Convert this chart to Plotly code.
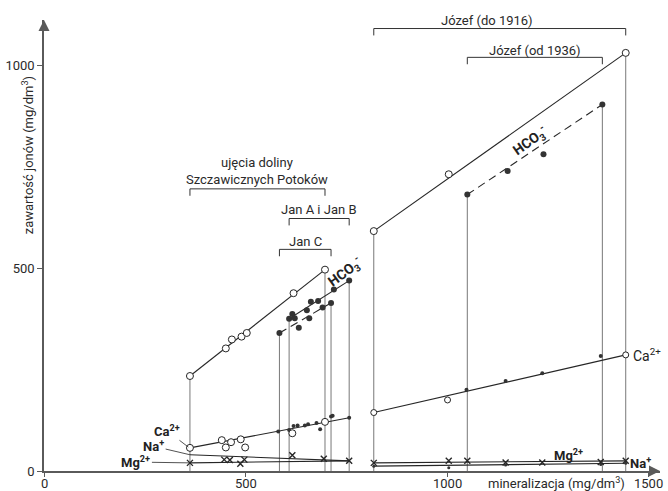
import plotly.graph_objects as go

FONT = "Roboto, Liberation Sans, Arial, sans-serif"
INK = "#262626"
AXC = "#5a5a5a"

# ---------------- data (mg/dm3) ----------------
# ujęcia doliny Szczawicznych Potoków (open circles)
szcz_min = [362, 451, 466, 490, 503, 619, 697]
szcz_hco3 = [234, 302, 324, 331, 340, 438, 496]
szcz_ca_min = [362, 441, 451, 464, 488, 499, 616, 697]
szcz_ca = [57, 76, 58, 71, 78, 58, 93, 121]

# Jan A i Jan B (filled, solid HCO3 line)
janab_min = [608, 616, 652, 662, 680, 719, 757]
janab_hco3 = [375, 387, 396, 417, 419, 447, 469]
# Jan C (filled, dashed HCO3 line)
janc_min = [584, 622, 632, 658, 691, 712]
janc_hco3 = [340, 376, 353, 376, 403, 414]
# Ca2+ of Jan springs
jan_ca_min = [581, 608, 619, 629, 647, 655, 676, 685, 712, 716, 757]
jan_ca = [97, 101, 111, 112, 112, 115, 118, 103, 134, 136, 131]
# Na+ / Mg2+ (left group, x markers)
left_namg_min = [362, 447, 461, 487, 497, 616, 694, 757]
left_namg = [20, 28, 27, 18, 28, 39, 30, 25]
left_na_min = [362, 757]
left_na = [40, 25]
left_mg_min = [362, 757]
left_mg = [20, 25]

# Józef (do 1916) - open
jozef1916_min = [818, 1004, 1443]
jozef1916_hco3 = [591, 731, 1030]
jozef1916_ca_min = [818, 1001, 1443]
jozef1916_ca = [144, 175, 286]
# Józef (od 1936) - filled
jozef1936_min = [1050, 1150, 1239, 1385]
jozef1936_hco3 = [681, 739, 780, 903]
jozef1936_ca_min = [1048, 1145, 1236, 1381]
jozef1936_ca = [200, 222, 241, 283]
# Józef Mg2+ (x) and Na+ (dots)
jozef_mg_min = [818, 1004, 1050, 1145, 1236, 1381, 1443]
jozef_mg = [20, 25, 25, 21, 21, 22, 25]
jozef_na_min = [818, 1004, 1145, 1381, 1443]
jozef_na = [12, 8, 15, 16, 19]

x_ticks = [0, 500, 1000, 1500]
x_tick_labels = ["0", "500", "1000", "1500"]
y_ticks = [0, 500, 1000]
y_tick_labels = ["0", "500", "1000"]
XMAX, YMAX = 1528, 1111

# ---------------- layout constants ----------------
brackets = [  # (label, xs, bar level, label x, label y)
    ("ujęcia doliny<br>Szczawicznych Potoków", szcz_min, 695, None, 739),
    ("Jan A i Jan B", janab_min, 622, None, 643),
    ("Jan C", janc_min, 546, None, 565),
    ("Józef (do 1916)", jozef1916_min, 1090, 1100, 1109),
    ("Józef (od 1936)", jozef1936_min, 1019, None, 1037),
]
TICK = 17

fig = go.Figure()

# vertical drop lines from HCO3 ends
vx, vy = [], []
for xs, ys in [(szcz_min, szcz_hco3), (janc_min, janc_hco3), (janab_min, janab_hco3),
               (jozef1916_min, jozef1916_hco3), (jozef1936_min, jozef1936_hco3)]:
    for i in (0, -1):
        vx += [xs[i], xs[i], None]
        vy += [ys[i], 0, None]
fig.add_trace(go.Scatter(x=vx, y=vy, mode="lines", line=dict(color="#555", width=0.8),
                         hoverinfo="skip", showlegend=False))


def seg(x0, y0, x1, y1, dash="solid", width=1.1):
    fig.add_trace(go.Scatter(x=[x0, x1], y=[y0, y1], mode="lines",
                             line=dict(color=INK, width=width, dash=dash),
                             hoverinfo="skip", showlegend=False))


DASH = "8px,5px"
seg(szcz_min[0], szcz_hco3[0], szcz_min[-1], szcz_hco3[-1])
seg(janab_min[0], janab_hco3[0], janab_min[-1], janab_hco3[-1])
seg(janc_min[0], janc_hco3[0], janc_min[-1], janc_hco3[-1], dash=DASH)
seg(szcz_ca_min[0], szcz_ca[0], jan_ca_min[-1], jan_ca[-1])
seg(left_na_min[0], left_na[0], left_na_min[-1], left_na[-1])
seg(left_mg_min[0], left_mg[0], left_mg_min[-1], left_mg[-1])
seg(jozef1916_min[0], jozef1916_hco3[0], jozef1916_min[-1], jozef1916_hco3[-1])
seg(jozef1936_min[0], jozef1936_hco3[0], jozef1936_min[-1], jozef1936_hco3[-1], dash=DASH)
seg(jozef1916_ca_min[0], jozef1916_ca[0], jozef1916_ca_min[-1], jozef1916_ca[-1])
seg(jozef_mg_min[0], jozef_mg[0], jozef_mg_min[-1], jozef_mg[-1])
seg(jozef_na_min[0], jozef_na[0], jozef_na_min[-1], jozef_na[-1])

open_m = dict(symbol="circle", size=7, color="white", line=dict(color=INK, width=1))
fill_m = dict(symbol="circle", size=6, color="#333")
dot_m = dict(symbol="circle", size=4, color="#333")
x_m = dict(symbol="x-thin", size=6, color=INK, line=dict(color=INK, width=1.4))


def pts(xs, ys, m):
    fig.add_trace(go.Scatter(x=xs, y=ys, mode="markers", marker=m,
                             hoverinfo="skip", showlegend=False, cliponaxis=False))


pts(szcz_min, szcz_hco3, open_m)
pts(janab_min, janab_hco3, fill_m)
pts(janc_min, janc_hco3, fill_m)
pts(jan_ca_min, jan_ca, dot_m)
pts(szcz_ca_min, szcz_ca, open_m)
pts(left_namg_min, left_namg, x_m)
pts(jozef1916_min, jozef1916_hco3, open_m)
pts(jozef1936_min, jozef1936_hco3, fill_m)
pts(jozef1936_ca_min, jozef1936_ca, dot_m)
pts(jozef1916_ca_min, jozef1916_ca, dict(open_m, size=6))
pts(jozef_mg_min, jozef_mg, x_m)
pts(jozef_na_min, jozef_na, dict(dot_m, size=3))

# axis arrows
fig.add_trace(go.Scatter(x=[0], y=[YMAX], mode="markers", cliponaxis=False,
                         marker=dict(symbol="arrow-up", size=11, color=AXC),
                         hoverinfo="skip", showlegend=False))
fig.add_trace(go.Scatter(x=[XMAX], y=[0], mode="markers", cliponaxis=False,
                         marker=dict(symbol="arrow-right", size=11, color=AXC),
                         hoverinfo="skip", showlegend=False))

shapes, annotations = [], []
for label, xs, lvl, lx, ly in brackets:
    x0, x1 = min(xs), max(xs)
    shapes.append(dict(type="path", xref="x", yref="y",
                       path=f"M {x0},{lvl - TICK} L {x0},{lvl} L {x1},{lvl} L {x1},{lvl - TICK}",
                       line=dict(color="#333", width=1)))
    annotations.append(dict(x=lx if lx is not None else (x0 + x1) / 2, y=ly, text=label,
                            showarrow=False, font=dict(size=13, color="#2a2a2a", family=FONT)))

# x tick labels (drawn as annotations so they fit under the axis)
for v, t in zip(x_ticks, x_tick_labels):
    annotations.append(dict(x=v, y=0, yshift=-12, text=t, showarrow=False,
                            font=dict(size=13, color="#2a2a2a", family=FONT)))

lab_font = dict(size=13, color="#222", family=FONT)
# left-side ion labels with leaders
for txt, hx, hy, tx, ty in [("<b>Ca<sup>2+</sup></b>", 358, 59, 305, 99),
                            ("<b>Na<sup>+</sup></b>", 362, 40, 272, 61),
                            ("<b>Mg<sup>2+</sup></b>", 362, 20, 228, 22)]:
    annotations.append(dict(x=hx, y=hy, ax=tx, ay=ty, axref="x", ayref="y", text=txt,
                            showarrow=True, arrowhead=0, arrowwidth=0.8, arrowcolor=INK,
                            standoff=0, font=lab_font))
annotations += [
    dict(x=1455, y=287, text="Ca<sup>2+</sup>", showarrow=False, xanchor="left",
         font=dict(size=14, color="#222", family=FONT)),
    dict(x=1302, y=40, text="<b>Mg<sup>2+</sup></b>", showarrow=False, font=lab_font),
    dict(x=1449, y=19, text="<b>Na<sup>+</sup></b>", showarrow=False, xanchor="left", font=lab_font),
    dict(x=746, y=490, text="<b>HCO<sub>3</sub><sup>-</sup></b>", showarrow=False,
         textangle=-36, font=dict(size=14, color="#222", family=FONT)),
    dict(x=1205, y=813, text="<b>HCO<sub>3</sub><sup>-</sup></b>", showarrow=False,
         textangle=-35, font=dict(size=14, color="#222", family=FONT)),
    dict(x=1272, y=0, yshift=-12, text="mineralizacja (mg/dm<sup>3</sup>)", showarrow=False,
         font=dict(size=13, color="#2a2a2a", family=FONT)),
    dict(x=0, xshift=-16, y=YMAX * 0.70, text="zawartość jonów (mg/dm<sup>3</sup>)", textangle=-90,
         showarrow=False, font=dict(size=13, color="#2a2a2a", family=FONT)),
]

fig.update_layout(
    width=668, height=491, margin=dict(l=44, r=8, t=20, b=20),
    paper_bgcolor="white", plot_bgcolor="white",
    font=dict(family=FONT, size=13, color="#2a2a2a"),
    shapes=shapes, annotations=annotations, showlegend=False,
    xaxis=dict(range=[0, XMAX], showgrid=False, zeroline=False, showline=True, automargin=False,
               linecolor=AXC, linewidth=1.5, ticks="outside", ticklen=4, tickcolor=AXC,
               tickvals=x_ticks, showticklabels=False, fixedrange=True),
    yaxis=dict(range=[0, YMAX], showgrid=False, zeroline=False, showline=True, automargin=False,
               linecolor=AXC, linewidth=1.5, ticks="outside", ticklen=5, tickcolor=AXC,
               tickvals=y_ticks, ticktext=y_tick_labels, fixedrange=True),
)

fig.write_html("out.html", config={"displayModeBar": False},
               post_script="document.body.style.margin='0';document.body.style.overflow='hidden';")
